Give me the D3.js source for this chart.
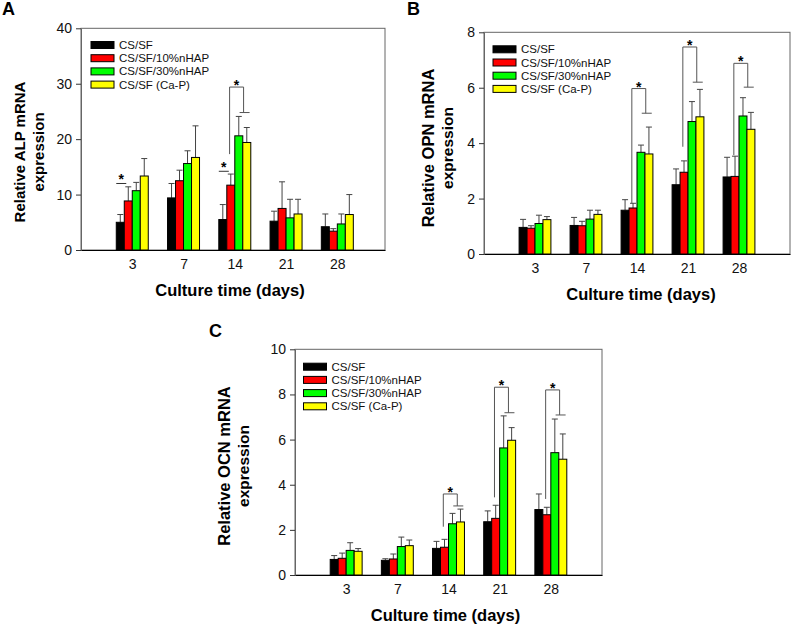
<!DOCTYPE html>
<html>
<head>
<meta charset="utf-8">
<script src="https://cdn.jsdelivr.net/npm/d3@7"></script>
<style>
  body { margin: 0; background: #fff; }
  svg { font-family: "Liberation Sans", Arial, sans-serif; }
</style>
</head>
<body>
<script>
// categories
const days = ['3', '7', '14', '21', '28'];
const groups = ['CS/SF', 'CS/SF/10%nHAP', 'CS/SF/30%nHAP', 'CS/SF (Ca-P)'];
const groupColors = ['#000000', '#ff0000', '#00ff00', '#ffff00'];

// ALP (panel A) - mean per day, per group
const alpMean = [
    [5.0, 8.85, 10.7, 13.35],
    [9.4, 12.5, 15.6, 16.7],
    [5.5, 11.7, 20.6, 19.4],
    [5.2, 7.5, 5.8, 6.5],
    [4.2, 3.4, 4.7, 6.4]
];
const alpErr = [
    [1.4, 2.55, 1.5, 3.15],
    [2.6, 1.9, 2.3, 5.7],
    [2.7, 2.0, 3.5, 2.7],
    [1.8, 4.8, 3.35, 2.65],
    [2.3, 0.45, 1.8, 3.6]
];
const alpLines = [{day: '3', y: 12.0}, {day: '14', y: 14.2}];
const alpBrackets = [{day: '14', left: 17.3, top: 29.4, right: 24.8}];

// OPN (panel B)
const opnMean = [
    [0.96, 0.93, 1.10, 1.24],
    [1.03, 1.02, 1.26, 1.43],
    [1.58, 1.66, 3.67, 3.61],
    [2.50, 2.95, 4.78, 4.95],
    [2.78, 2.80, 4.98, 4.50]
];
const opnErr = [
    [0.29, 0.09, 0.30, 0.11],
    [0.29, 0.16, 0.32, 0.15],
    [0.38, 0.17, 0.26, 0.97],
    [0.57, 0.41, 0.72, 0.99],
    [0.71, 0.73, 0.66, 0.61]
];
const opnBrackets = [
    {day: '14', left: 1.83, top: 5.97, right: 5.08},
    {day: '21', left: 3.87, top: 7.47, right: 6.2},
    {day: '28', left: 3.57, top: 6.88, right: 6.02}
];

// OCN (panel C)
const ocnMean = [
    [0.69, 0.74, 1.09, 1.05],
    [0.65, 0.71, 1.26, 1.30],
    [1.18, 1.23, 2.27, 2.35],
    [2.36, 2.51, 5.63, 5.97],
    [2.90, 2.67, 5.42, 5.13]
];
const ocnErr = [
    [0.17, 0.23, 0.34, 0.12],
    [0.07, 0.22, 0.42, 0.25],
    [0.31, 0.35, 0.46, 0.57],
    [0.48, 0.58, 1.42, 0.56],
    [0.69, 0.33, 1.49, 1.12]
];
const ocnBrackets = [
    {day: '14', left: 2.14, top: 3.59, right: 3.06},
    {day: '21', left: 3.44, top: 8.32, right: 7.19},
    {day: '28', left: 3.37, top: 8.2, right: 7.09}
];

const svg = d3.select('body').append('svg')
    .attr('width', 792)
    .attr('height', 624);

function drawPanel(p) {
    const g = svg.append('g');
    const x = d3.scaleLinear().domain([0, p.xMax]).range([p.left, p.right]);
    const y = d3.scaleLinear().domain([0, p.yMax]).range([p.bottom, p.top]);
    const step = x(1) - x(0);
    const bw = step * 0.156;
    const dayX = d => x(days.indexOf(d) + 1);
    // position inside a group, in bar units (0 = left edge of first bar)
    const posX = (d, u) => dayX(d) - 2 * bw + u * bw;

    // frame
    g.append('rect')
        .attr('x', p.left).attr('y', p.top)
        .attr('width', p.right - p.left).attr('height', p.bottom - p.top)
        .attr('fill', 'none').attr('stroke', '#666').attr('stroke-width', 1);

    // y axis
    const yAxis = g.append('g')
        .attr('transform', `translate(${p.left},0)`)
        .call(d3.axisLeft(y)
            .tickValues(d3.range(0, p.yMax + 0.001, p.yStep))
            .tickSizeInner(5).tickSizeOuter(0).tickPadding(4));
    yAxis.select('.domain').attr('stroke', '#666');
    yAxis.selectAll('line').attr('stroke', '#333');
    yAxis.selectAll('text').attr('font-size', 14).attr('fill', '#111')
        .attr('font-family', '"Liberation Sans", Arial, sans-serif');

    // x axis
    const xAxis = g.append('g')
        .attr('transform', `translate(0,${p.bottom})`)
        .call(d3.axisBottom(x)
            .tickValues(days.map((d, i) => i + 1))
            .tickFormat(i => days[i - 1])
            .tickSize(0).tickPadding(9));
    xAxis.select('.domain').attr('stroke', '#000').attr('stroke-width', 1.2);
    xAxis.selectAll('text').attr('font-size', 14).attr('fill', '#111')
        .attr('font-family', '"Liberation Sans", Arial, sans-serif');

    // bars
    const rows = days.flatMap((d, i) => groups.map((s, k) => ({
        day: d, k: k, v: p.mean[i][k], e: p.err[i][k]
    })));

    g.selectAll('.err').data(rows).enter().append('path')
        .attr('class', 'err')
        .attr('d', r => {
            const cx = posX(r.day, r.k + 0.5);
            const top = y(r.v + r.e);
            return `M${cx},${y(r.v)}V${top}M${cx - 3},${top}H${cx + 3}`;
        })
        .attr('fill', 'none').attr('stroke', '#444').attr('stroke-width', 1);

    g.selectAll('.bar').data(rows).enter().append('rect')
        .attr('class', 'bar')
        .attr('x', r => posX(r.day, r.k))
        .attr('y', r => y(r.v))
        .attr('width', bw)
        .attr('height', r => y(0) - y(r.v))
        .attr('fill', r => groupColors[r.k])
        .attr('stroke', '#000').attr('stroke-width', 1);

    // simple significance lines
    (p.lines || []).forEach(l => {
        const x1 = posX(l.day, 0), x2 = posX(l.day, 1.25);
        g.append('line')
            .attr('x1', x1).attr('x2', x2)
            .attr('y1', y(l.y)).attr('y2', y(l.y))
            .attr('stroke', '#333');
        g.append('text')
            .attr('x', (x1 + x2) / 2).attr('y', y(l.y) + 1)
            .attr('text-anchor', 'middle').attr('font-size', 14).attr('font-weight', 'bold')
            .text('*');
    });

    // brackets
    (p.brackets || []).forEach(b => {
        const lx = posX(b.day, 1.35), rx = posX(b.day, 3.1);
        g.append('path')
            .attr('d', `M${lx},${y(b.left)}V${y(b.top)}H${rx}V${y(b.right)}M${rx - 4},${y(b.right)}H${rx + 6}`)
            .attr('fill', 'none').attr('stroke', '#555').attr('stroke-width', 1);
        g.append('text')
            .attr('x', (lx + rx) / 2).attr('y', y(b.top) + 3)
            .attr('text-anchor', 'middle').attr('font-size', 14).attr('font-weight', 'bold')
            .text('*');
    });

    // legend
    const leg = g.append('g');
    groups.forEach((s, k) => {
        const ly = p.legY + k * 13.2;
        leg.append('rect')
            .attr('x', p.legX).attr('y', ly - 3.5)
            .attr('width', 23).attr('height', 7)
            .attr('fill', groupColors[k]).attr('stroke', '#000').attr('stroke-width', 1);
        leg.append('text')
            .attr('x', p.legX + 28).attr('y', ly + 4)
            .attr('font-size', 11.5).attr('fill', '#111')
            .text(s);
    });

    // axis titles
    g.append('text')
        .attr('x', (p.left + p.right) / 2 + p.xTitleDx).attr('y', p.bottom + 46)
        .attr('text-anchor', 'middle').attr('font-size', 16.5).attr('font-weight', 'bold')
        .text('Culture time (days)');

    p.yTitle.forEach((t, j) => {
        g.append('text')
            .attr('transform', `translate(${p.yTitleX + j * 19},${p.yTitleY}) rotate(-90)`)
            .attr('text-anchor', 'middle').attr('font-size', p.yTitleSize[j]).attr('font-weight', 'bold')
            .text(t);
    });

    g.append('text')
        .attr('x', p.tagX).attr('y', p.tagY)
        .attr('font-size', 18).attr('font-weight', 'bold')
        .text(p.tag);
}

drawPanel({
    tag: 'A', tagX: 2, tagY: 15,
    left: 81, right: 385, top: 28.3, bottom: 250, xMax: 5.93,
    yMax: 40, yStep: 10,
    mean: alpMean, err: alpErr, lines: alpLines, brackets: alpBrackets,
    legX: 91, legY: 45,
    yTitle: ['Relative ALP mRNA', 'expression'], yTitleSize: [15, 15],
    yTitleX: 25, yTitleY: 152,
    xTitleDx: -3
});

drawPanel({
    tag: 'B', tagX: 407, tagY: 15,
    left: 484, right: 790, top: 32.3, bottom: 254, xMax: 6,
    yMax: 8, yStep: 2,
    mean: opnMean, err: opnErr, brackets: opnBrackets,
    legX: 493, legY: 49.3,
    yTitle: ['Relative OPN mRNA', 'expression'], yTitleSize: [16.5, 15.5],
    yTitleX: 434, yTitleY: 148,
    xTitleDx: 4
});

drawPanel({
    tag: 'C', tagX: 209, tagY: 337,
    left: 295, right: 602, top: 349.3, bottom: 575, xMax: 6,
    yMax: 10, yStep: 2,
    mean: ocnMean, err: ocnErr, brackets: ocnBrackets,
    legX: 303.5, legY: 366.7,
    yTitle: ['Relative OCN mRNA', 'expression'], yTitleSize: [16.5, 15.5],
    yTitleX: 230, yTitleY: 466,
    xTitleDx: -3
});
</script>
</body>
</html>
